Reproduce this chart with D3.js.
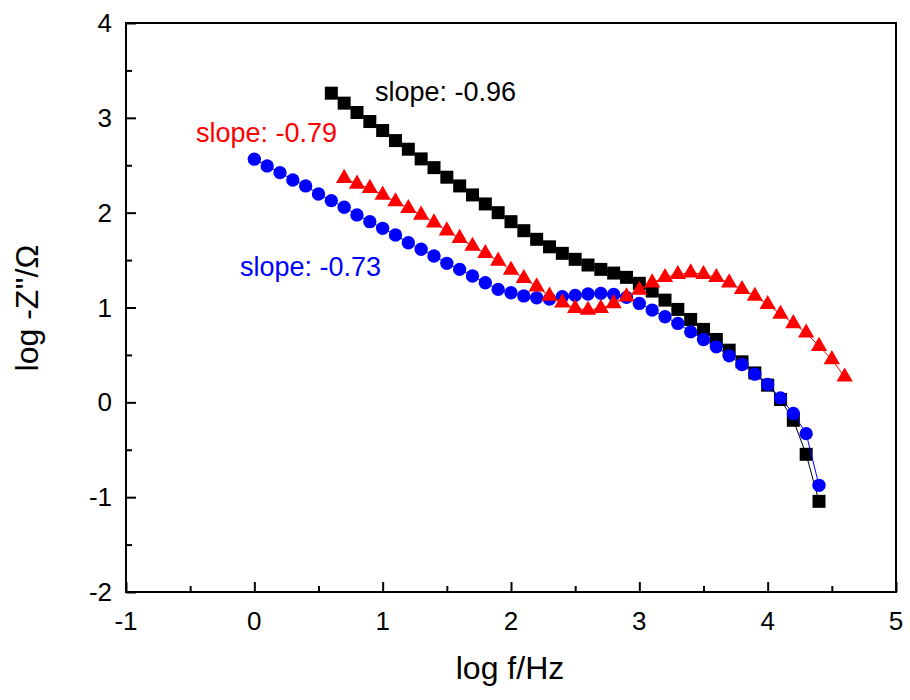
<!DOCTYPE html>
<html>
<head>
<meta charset="utf-8">
<script src="https://cdn.jsdelivr.net/npm/d3@7"></script>
<style>
  body { margin: 0; background: #fff; }
  svg text { font-family: Arial, "Liberation Sans", sans-serif; }
</style>
</head>
<body>
<script>
(function(){

//data: log f and log -Z'' for the three samples
var blackX = [0.6,0.7,0.8,0.9,1.0,1.1,1.2,1.3,1.4,1.5,1.6,1.7,1.8,1.9,2.0,2.1,2.2,2.3,2.4,2.5,2.6,2.7,2.8,2.9,3.0,3.1,3.2,3.3,3.4,3.5,3.6,3.7,3.8,3.9,4.0,4.1,4.2,4.3,4.4];
var blackY = [3.26,3.155,3.056,2.961,2.866,2.760,2.669,2.567,2.475,2.374,2.282,2.187,2.092,2.000,1.905,1.810,1.719,1.64,1.571,1.508,1.448,1.402,1.363,1.318,1.255,1.173,1.078,0.980,0.874,0.769,0.663,0.550,0.427,0.310,0.181,0.030,-0.189,-0.548,-1.044];

var blueX = [0.0,0.1,0.2,0.3,0.4,0.5,0.6,0.7,0.8,0.9,1.0,1.1,1.2,1.3,1.4,1.5,1.6,1.7,1.8,1.9,2.0,2.1,2.2,2.3,2.4,2.5,2.6,2.7,2.8,2.9,3.0,3.1,3.2,3.3,3.4,3.5,3.6,3.7,3.8,3.9,4.0,4.1,4.2,4.3,4.4];
var blueY = [2.564,2.493,2.422,2.345,2.282,2.197,2.127,2.057,1.976,1.905,1.835,1.764,1.683,1.614,1.543,1.466,1.402,1.332,1.261,1.191,1.155,1.122,1.102,1.089,1.113,1.128,1.142,1.149,1.138,1.107,1.043,0.973,0.902,0.832,0.743,0.663,0.585,0.490,0.399,0.297,0.188,0.047,-0.118,-0.330,-0.875];

var redX = [0.7,0.8,0.9,1.0,1.1,1.2,1.3,1.4,1.5,1.6,1.7,1.8,1.9,2.0,2.1,2.2,2.3,2.4,2.5,2.6,2.7,2.8,2.9,3.0,3.1,3.2,3.3,3.4,3.5,3.6,3.7,3.8,3.9,4.0,4.1,4.2,4.3,4.4,4.5,4.6];
var redY = [2.363,2.303,2.258,2.187,2.116,2.046,1.976,1.894,1.810,1.730,1.648,1.571,1.490,1.395,1.307,1.219,1.122,1.050,0.991,0.973,0.991,1.043,1.113,1.184,1.261,1.318,1.350,1.367,1.350,1.318,1.261,1.191,1.120,1.033,0.930,0.832,0.733,0.592,0.452,0.268];

var xTicks = [-1,0,1,2,3,4,5];
var yTicks = [-2,-1,0,1,2,3,4];
var slopeLabels = ["slope: -0.96", "slope: -0.79", "slope: -0.73"];

//frame
var width = 910, height = 700;
var left = 126, right = 896, top = 23, bottom = 592;

var svg = d3.select("body").append("svg")
    .attr("width", width)
    .attr("height", height);

var x = d3.scaleLinear().domain([-1, 5]).range([left, right]);
var y = d3.scaleLinear().domain([-2, 4]).range([bottom, top]);

//axes, ticks pointing inward
var xAxis = svg.append("g")
    .attr("transform", "translate(0," + bottom + ")")
    .call(d3.axisBottom(x).tickValues(d3.range(-1, 5.01, 0.5)).tickSize(-6).tickFormat(""));
xAxis.selectAll(".tick line").attr("y2", function(d){ return Number.isInteger(d) ? -10 : -6; });

var yAxis = svg.append("g")
    .attr("transform", "translate(" + left + ",0)")
    .call(d3.axisLeft(y).tickValues(d3.range(-2, 4.01, 0.5)).tickSize(-6).tickFormat(""));
yAxis.selectAll(".tick line").attr("x2", function(d){ return Number.isInteger(d) ? 10 : 6; });

svg.selectAll(".domain").remove();
svg.selectAll(".tick line").attr("stroke", "#000").attr("stroke-width", 2);

svg.append("rect")
    .attr("x", left).attr("y", top)
    .attr("width", right - left).attr("height", bottom - top)
    .attr("fill", "none").attr("stroke", "#000").attr("stroke-width", 2);

//tick labels
svg.selectAll(".xlab").data(xTicks).enter().append("text")
    .attr("class", "xlab")
    .attr("x", function(d){ return x(d); })
    .attr("y", bottom + 38)
    .attr("text-anchor", "middle")
    .attr("font-size", 26)
    .text(function(d){ return d; });

svg.selectAll(".ylab").data(yTicks).enter().append("text")
    .attr("class", "ylab")
    .attr("x", left - 14)
    .attr("y", function(d){ return y(d) + 9; })
    .attr("text-anchor", "end")
    .attr("font-size", 26)
    .text(function(d){ return d; });

//axis titles
svg.append("text")
    .attr("x", 510)
    .attr("y", 679)
    .attr("text-anchor", "middle")
    .attr("font-size", 32)
    .text("log f/Hz");

svg.append("text")
    .attr("transform", "translate(38,308) rotate(-90)")
    .attr("text-anchor", "middle")
    .attr("font-size", 32)
    .text("log -Z''/\u03A9");

//series
var series = [
    {xs: blackX, ys: blackY, color: "#000000", shape: d3.symbolSquare, size: 169},
    {xs: blueX, ys: blueY, color: "#0000ff", shape: d3.symbolCircle, size: 140},
    {xs: redX, ys: redY, color: "#ff0000", shape: d3.symbolTriangle, size: 115}
];

var line = d3.line()
    .x(function(d){ return x(d[0]); })
    .y(function(d){ return y(d[1]); });

series.forEach(function(s){
    var pts = s.xs.map(function(v, i){ return [v, s.ys[i]]; });
    svg.append("path")
        .datum(pts)
        .attr("d", line)
        .attr("fill", "none")
        .attr("stroke", s.color)
        .attr("stroke-width", 1);
    svg.selectAll(null).data(pts).enter().append("path")
        .attr("d", d3.symbol().type(s.shape).size(s.size))
        .attr("transform", function(d){ return "translate(" + x(d[0]) + "," + y(d[1]) + ")"; })
        .attr("fill", s.color);
});

//slope annotations
svg.append("text").attr("x", 375).attr("y", 101).attr("font-size", 27)
    .attr("fill", "#000").text(slopeLabels[0]);
svg.append("text").attr("x", 196).attr("y", 142).attr("font-size", 27)
    .attr("fill", "#ff0000").text(slopeLabels[1]);
svg.append("text").attr("x", 240).attr("y", 276).attr("font-size", 27)
    .attr("fill", "#0000ff").text(slopeLabels[2]);

})();
</script>
</body>
</html>
